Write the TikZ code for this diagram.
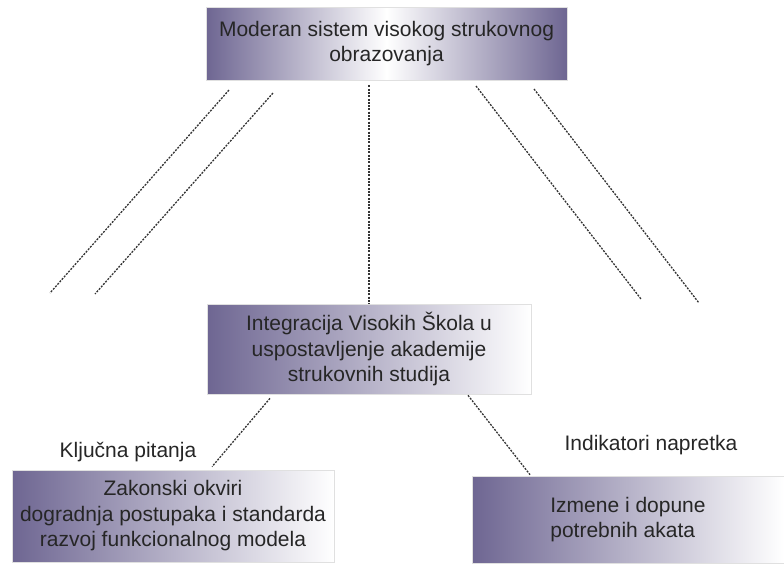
\documentclass[tikz,border=0pt]{standalone}
\usepackage{fontspec}
\setmainfont{Liberation Sans}
\definecolor{zdark}{RGB}{110,102,146}
\begin{document}
\begin{tikzpicture}[x=1pt, y=-1pt, zbox/.style={draw=black!12, line width=.6pt, left color=zdark, right color=white, inner sep=0pt, align=center, font=\fontsize{21}{25.5}\selectfont, text=black!85}, zvar/.style={line width=1.3pt, dash pattern=on 2pt off 1.3pt, black!80}, zlab/.style={font=\fontsize{21}{25.5}\selectfont, text=black!85}]
\useasboundingbox (0,0) rectangle (784,563);
  \node[zbox, right color=zdark, middle color=white, minimum width=361pt, minimum height=73pt] (sis) at (386.5,43.5) {Moderan sistem visokog strukovnog\\obrazovanja};
  \node[zbox, minimum width=324pt, minimum height=90pt] (int) at (369,349) {Integracija Visokih Škola u\\uspostavljenje akademije\\strukovnih studija};
  \node[zbox, minimum width=322pt, minimum height=92pt] (zak) at (173,516) {Zakonski okviri\\dogradnja postupaka i standarda\\razvoj funkcionalnog modela};
  \node[zbox, align=left, minimum width=312pt, minimum height=87pt] (izm) at (628,519.5) {Izmene i dopune\\potrebnih akata\vphantom{[}};
  \node[zlab] (kp) at (128,452) {Ključna pitanja};
  \node[zlab] (ind) at (651,445) {Indikatori napretka};
  \draw[zvar] ([yshift=-5pt]sis.south -| int.north) -- (int.north);
  \draw[zvar] ([xshift=-99pt,yshift=-4pt]int.south) -- ([xshift=39pt,yshift=3pt]zak.north);
  \draw[zvar] ([xshift=99pt,yshift=-1pt]int.south) -- ([xshift=-98pt,yshift=1pt]izm.north);
\foreach \n/\xa/\ya/\xb/\yb in {a/229/90/50/293, b/273/93/95/294, c/476/86/641/299, d/534/89/699/303}{\coordinate (\n1) at (\xa,\ya); \coordinate (\n2) at (\xb,\yb); \draw[zvar] (\n1) -- (\n2);}
\end{tikzpicture}
\end{document}
